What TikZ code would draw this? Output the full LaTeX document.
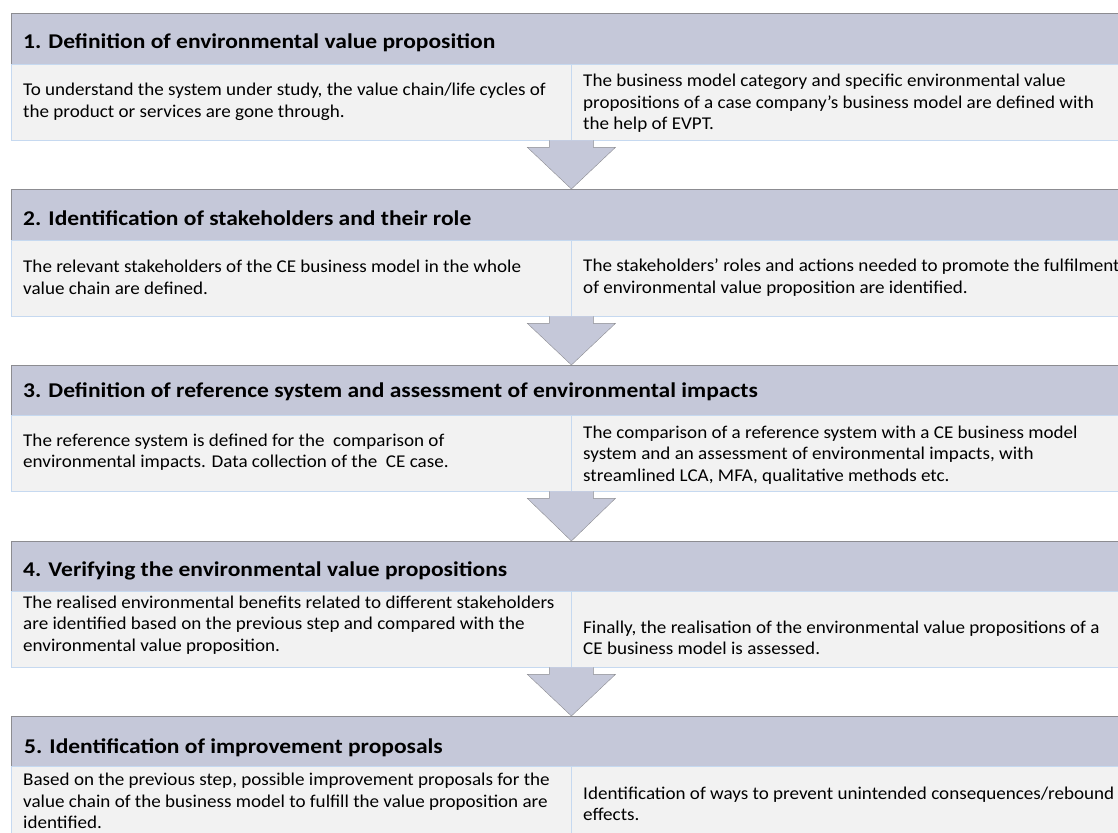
\documentclass[tikz,border=0pt]{standalone}
\usepackage{fontspec}
\setmainfont{Carlito}
\newfontfamily\bodyfont[FakeStretch=1.06]{Carlito}
\newfontfamily\headfont[FakeStretch=1.12]{Carlito}
\definecolor{headfill}{RGB}{197,200,217}
\definecolor{headline}{RGB}{140,140,145}
\definecolor{cellfill}{RGB}{242,242,242}
\definecolor{cellline}{RGB}{198,217,240}
\tikzset{
    head/.style={draw=headline, fill=headfill, anchor=north west,
    	minimum width=1125pt, minimum height=51pt, inner sep=0pt},
    cell/.style={draw=cellline, fill=cellfill, anchor=north west,
    	minimum height=76pt, inner sep=0pt},
    leftcell/.style={cell, minimum width=560pt},
    rightcell/.style={cell, minimum width=560pt},
    headtext/.style={anchor=west, inner sep=0pt,
    	font=\headfont\fontsize{21}{24}\selectfont\bfseries},
    celltext/.style={anchor=west, inner sep=0pt, align=left,
    	font=\bodyfont\fontsize{18}{21.5}\selectfont},
    blockarrow/.style={draw=headline, fill=headfill, line join=miter}
}

\begin{document}
\begin{tikzpicture}[x=1pt, y=-1pt]
  \useasboundingbox (0,0) rectangle (1118,832);

  % step 1
  \node (h1) [head] at (11,13) {};
  \node (l1) [leftcell] at (11,64) {};
  \node (r1) [rightcell] at (571,64) {};
  \node (th1) [headtext] at (23,43) {1. Definition of environmental value proposition};
  \node (tl1) [celltext] at (23,102) {To understand the system under study, the value chain/life cycles of\\the product or services are gone through.};
  \node (tr1) [celltext] at (583,103.5) {The business model category and specific environmental value\\propositions of a case company’s business model are defined with\\the help of EVPT.};

  % step 2
  \node (h2) [head] at (11,189) {};
  \node (l2) [leftcell] at (11,240) {};
  \node (r2) [rightcell] at (571,240) {};
  \node (th2) [headtext] at (23,218) {2. Identification of stakeholders and their role};
  \node (tl2) [celltext] at (23,277.5) {The relevant stakeholders of the CE business model in the whole\\value chain are defined.};
  \node (tr2) [celltext] at (583,277.5) {The stakeholders’ roles and actions needed to promote the fulfilment\\of environmental value proposition are identified.};

  % step 3
  \node (h3) [head] at (11,365) {};
  \node (l3) [leftcell] at (11,415) {};
  \node (r3) [rightcell] at (571,415) {};
  \node (th3) [headtext] at (23,392) {3. Definition of reference system and assessment of environmental impacts};
  \node (tl3) [celltext] at (23,452) {The reference system is defined for the \ comparison of\\environmental impacts. Data collection of the \ CE case.};
  \node (tr3) [celltext] at (583,455) {The comparison of a reference system with a CE business model\\system and an assessment of environmental impacts, with\\streamlined LCA, MFA, qualitative methods etc.};

  % step 4
  \node (h4) [head] at (11,541) {};
  \node (l4) [leftcell] at (11,591) {};
  \node (r4) [rightcell] at (571,591) {};
  \node (th4) [headtext] at (23,571) {4. Verifying the environmental value propositions};
  \node (tl4) [celltext] at (23,625) {The realised environmental benefits related to different stakeholders\\are identified based on the previous step and compared with the\\environmental value proposition.};
  \node (tr4) [celltext] at (583,638) {Finally, the realisation of the environmental value propositions of a\\CE business model is assessed.};

  % step 5
  \node (h5) [head] at (11,716) {};
  \node (l5) [leftcell] at (11,766) {};
  \node (r5) [rightcell] at (571,766) {};
  \node (th5) [headtext] at (24,748) {5. Identification of improvement proposals};
  \node (tl5) [celltext] at (23,801) {Based on the previous step, possible improvement proposals for the\\value chain of the business model to fulfill the value proposition are\\identified.};
  \node (tr5) [celltext] at (583,804) {Identification of ways to prevent unintended consequences/rebound\\effects.};

  % arrows between the steps
  \draw[blockarrow] ([shift={(-22,0)}]l1.south east) -- ([shift={(-22,7)}]l1.south east)
    -- ([shift={(-44,7)}]l1.south east) -- (l1.south east |- h2.north)
    -- ([shift={(44,7)}]l1.south east) -- ([shift={(22,7)}]l1.south east)
    -- ([shift={(22,0)}]l1.south east);
  \draw[blockarrow] ([shift={(-22,0)}]l2.south east) -- ([shift={(-22,7)}]l2.south east)
    -- ([shift={(-44,7)}]l2.south east) -- (l2.south east |- h3.north)
    -- ([shift={(44,7)}]l2.south east) -- ([shift={(22,7)}]l2.south east)
    -- ([shift={(22,0)}]l2.south east);
  \draw[blockarrow] ([shift={(-22,0)}]l3.south east) -- ([shift={(-22,7)}]l3.south east)
    -- ([shift={(-44,7)}]l3.south east) -- (l3.south east |- h4.north)
    -- ([shift={(44,7)}]l3.south east) -- ([shift={(22,7)}]l3.south east)
    -- ([shift={(22,0)}]l3.south east);
  \draw[blockarrow] ([shift={(-22,0)}]l4.south east) -- ([shift={(-22,7)}]l4.south east)
    -- ([shift={(-44,7)}]l4.south east) -- (l4.south east |- h5.north)
    -- ([shift={(44,7)}]l4.south east) -- ([shift={(22,7)}]l4.south east)
    -- ([shift={(22,0)}]l4.south east);
\end{tikzpicture}
\end{document}
